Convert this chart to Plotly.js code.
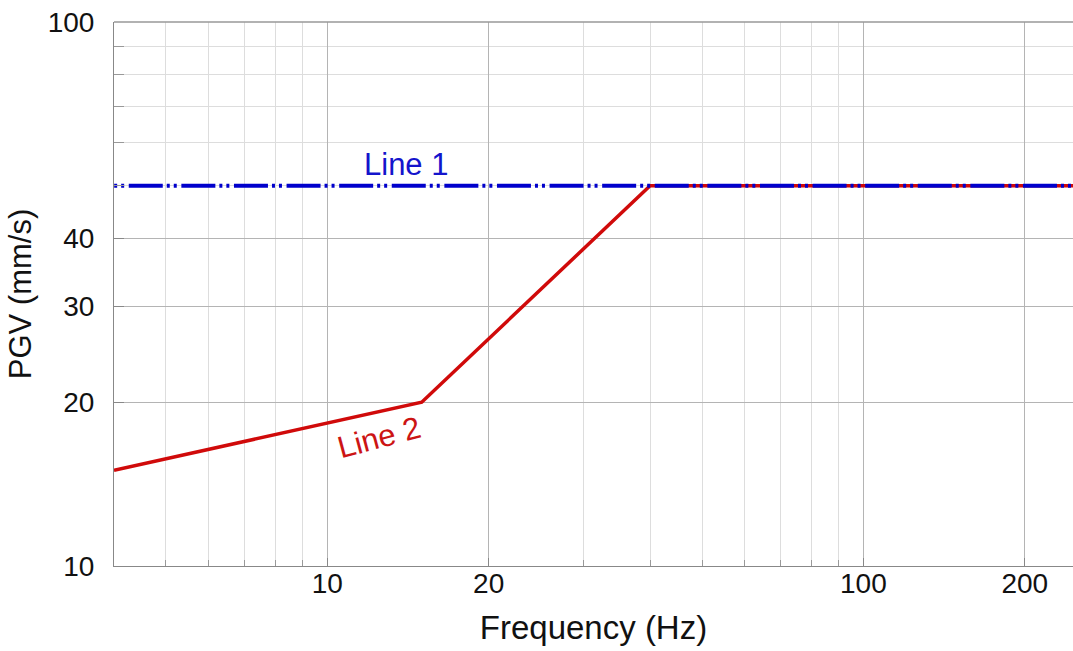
<!DOCTYPE html>
<html>
<head>
<meta charset="utf-8">
<script src="https://cdn.plot.ly/plotly-3.0.1.min.js"></script>
<style>html,body{margin:0;padding:0;background:#fff;}#chart{width:1073px;height:651px;}</style>
</head>
<body>
<div id="chart"></div>
<script>
// Data
const line1Freq = [3.4, 250];
const line1PGV = [50, 50];
const line2Freq = [4, 15, 40, 250];
const line2PGV = [15, 20, 50, 50];

const xTickVals = [10, 20, 100, 200];
const xTickText = ['10', '20', '100', '200'];
const xMinorVals = [4, 5, 6, 7, 8, 9, 30, 40, 50, 60, 70, 80, 90];
const yTickVals = [10, 20, 30, 40, 100];
const yTickText = ['10', '20', '30', '40', '100'];
const yMinorVals = [50, 60, 70, 80, 90];

const labels = [
  {text: 'Line 1', x: 14.0, y: 54.6, angle: 0, color: '#1414cc'},
  {text: 'Line 2', x: 12.5, y: 17.2, angle: -15, color: '#cc1414'}
];

const font = 'Liberation Sans, Arial, sans-serif';

const traces = [
  {x: line2Freq, y: line2PGV, mode: 'lines', line: {color: '#d00a0a', width: 3.5}, hoverinfo: 'skip'},
  {x: line1Freq, y: line1PGV, mode: 'lines',
   line: {color: '#0000cc', width: 4, dash: '34px,4px,3px,4px,3px,4.6px'}, hoverinfo: 'skip'}
];

const layout = {
  width: 1073, height: 651,
  margin: {l: 114, r: 0, t: 22, b: 85},
  paper_bgcolor: '#ffffff', plot_bgcolor: '#ffffff',
  showlegend: false,
  font: {family: font, color: '#111111'},
  xaxis: {
    type: 'log', range: [Math.log10(4), 2.391],
    tickmode: 'array', tickvals: xTickVals, ticktext: xTickText,
    tickfont: {size: 28, color: '#111'},
    ticks: 'inside', ticklen: 8, tickcolor: '#888', tickwidth: 1,
    showgrid: true, gridcolor: '#b4b4b4', gridwidth: 1,
    minor: {tickmode: 'array', tickvals: xMinorVals, ticks: 'inside', ticklen: 6, tickcolor: '#999',
            showgrid: true, gridcolor: '#dddddd', gridwidth: 1},
    showline: true, linecolor: '#888', linewidth: 1, mirror: false,
    zeroline: false, ticklabelstandoff: -8,
    title: {text: 'Frequency (Hz)', font: {size: 33, color: '#111'}, standoff: 18}
  },
  yaxis: {
    type: 'log', range: [1, 2],
    tickmode: 'array', tickvals: yTickVals, ticktext: yTickText,
    tickfont: {size: 28, color: '#111'},
    ticks: 'inside', ticklen: 10, tickcolor: '#888', tickwidth: 1,
    showgrid: true, gridcolor: '#b4b4b4', gridwidth: 1,
    minor: {tickmode: 'array', tickvals: yMinorVals, ticks: 'inside', ticklen: 10, tickcolor: '#999',
            showgrid: true, gridcolor: '#dddddd', gridwidth: 1},
    showline: true, linecolor: '#888', linewidth: 1, mirror: false,
    zeroline: false, ticklabelstandoff: 13,
    title: {text: 'PGV (mm/s)', font: {size: 31, color: '#111'}, standoff: 6}
  },
  shapes: [
    {type: 'line', xref: 'paper', yref: 'paper', x0: 0, x1: 1, y0: 1, y1: 1, line: {color: '#999', width: 1.5}}
  ],
  annotations: labels.map(l => ({
    text: l.text, x: Math.log10(l.x), y: Math.log10(l.y), xref: 'x', yref: 'y',
    showarrow: false, textangle: l.angle, font: {size: 31, color: l.color, family: font}
  }))
};

Plotly.newPlot('chart', traces, layout, {displayModeBar: false, staticPlot: true});
</script>
</body>
</html>
